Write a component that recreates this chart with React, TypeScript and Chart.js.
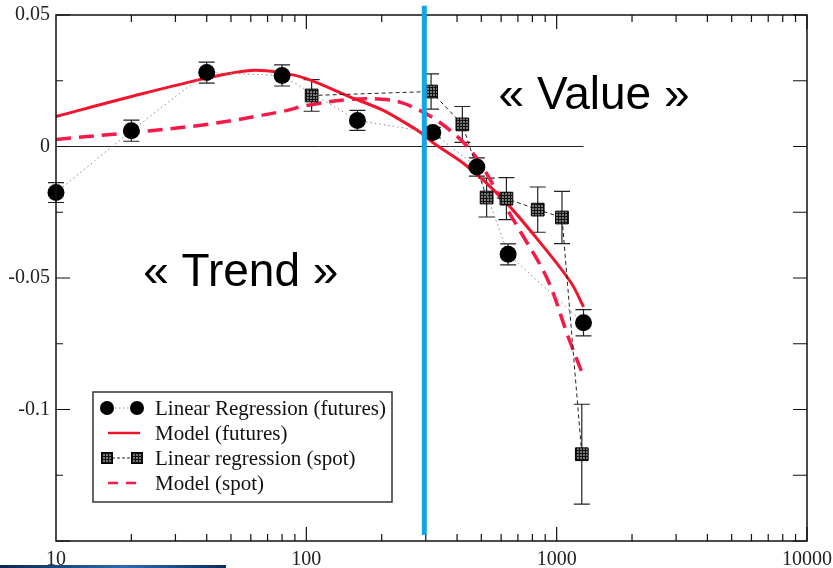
import React, { useEffect, useRef } from 'react';
import { Chart, registerables } from 'chart.js';

Chart.register(...registerables);

// ---- data ----
const futuresX = [10, 20, 40, 80, 160, 320, 480, 640, 1280];
const futuresY = [-0.0175, 0.006, 0.0281, 0.027, 0.0099, 0.0053, -0.0078, -0.041, -0.067];
const futuresErr = [0.0038, 0.004, 0.004, 0.004, 0.0038, 0.002, 0.0035, 0.004, 0.005];

const spotX = [105, 315, 420, 525, 630, 840, 1050, 1260];
const spotY = [0.0194, 0.0209, 0.0084, -0.0194, -0.0198, -0.024, -0.027, -0.117];
const spotErr = [0.006, 0.0067, 0.0068, 0.0074, 0.008, 0.0086, 0.0099, 0.019];

const modelFuturesX = [10, 20, 40, 60, 80, 100, 150, 200, 240, 286, 320, 440, 610, 840, 1140, 1280];
const modelFuturesY = [0.0114, 0.019, 0.026, 0.0289, 0.028, 0.0258, 0.0188, 0.014, 0.0098, 0.0053, 0.0015, -0.0076, -0.02, -0.0354, -0.0517, -0.061];

const modelSpotX = [10, 20, 40, 80, 100, 150, 200, 240, 280, 320, 380, 440, 500, 600, 720, 920, 1110, 1280];
const modelSpotY = [0.0027, 0.0053, 0.0084, 0.0133, 0.0156, 0.0179, 0.018, 0.0167, 0.014, 0.011, 0.0057, 0.0, -0.007, -0.02, -0.0327, -0.0506, -0.0722, -0.0875];

const zeroLineX = [10, 1280];
const zeroLineY = [0, 0];

const xTickLabels = [10, 100, 1000, 10000];
const yTickLabels = [0.05, 0, -0.05, -0.1];

const dividerX = 296;
const dividerYRange = [0.0535, -0.1477];

const annotations = [
  { text: '\u00AB Trend \u00BB', x: 22.3, y: -0.0532 },
  { text: '\u00AB Value \u00BB', x: 586, y: 0.0141 },
];

const legendLabels = [
  'Linear Regression (futures)',
  'Model (futures)',
  'Linear regression (spot)',
  'Model (spot)',
];

// ---- styles ----
const RED = '#f0142c';
const RED_DASH = '#f51a48';
const BLUE = '#12a6e2';
const SERIF = '"Liberation Serif", "Times New Roman", "DejaVu Serif", serif';
const SANS = '"Liberation Sans", Arial, sans-serif';

function makePattern(): CanvasPattern | string {
  const c = document.createElement('canvas');
  c.width = 3;
  c.height = 3;
  const g = c.getContext('2d');
  if (!g) return '#333';
  g.fillStyle = '#777';
  g.fillRect(0, 0, 3, 3);
  g.fillStyle = '#111';
  g.fillRect(0, 0, 3, 1);
  g.fillRect(0, 0, 1, 3);
  const p = g.createPattern(c, 'repeat');
  return p || '#333';
}

const toPts = (xs: number[], ys: number[]) => xs.map((x, i) => ({ x, y: ys[i] }));

export default function App() {
  const ref = useRef<HTMLCanvasElement | null>(null);

  useEffect(() => {
    if (!ref.current) return;
    const pattern = makePattern();

    const drawErrors = (chart: any, xs: number[], ys: number[], es: number[]) => {
      const { ctx, scales } = chart;
      const sx = scales.x;
      const sy = scales.y;
      ctx.save();
      ctx.strokeStyle = '#222';
      ctx.lineWidth = 1.2;
      xs.forEach((xv, i) => {
        const px = sx.getPixelForValue(xv);
        const top = sy.getPixelForValue(ys[i] + es[i]);
        const bot = sy.getPixelForValue(ys[i] - es[i]);
        ctx.beginPath();
        ctx.moveTo(px, top);
        ctx.lineTo(px, bot);
        ctx.moveTo(px - 8, top);
        ctx.lineTo(px + 8, top);
        ctx.moveTo(px - 8, bot);
        ctx.lineTo(px + 8, bot);
        ctx.stroke();
      });
      ctx.restore();
    };

    const decor = {
      id: 'decor',
      beforeDatasetsDraw(chart: any) {
        drawErrors(chart, futuresX, futuresY, futuresErr);
        drawErrors(chart, spotX, spotY, spotErr);
      },
      afterDraw(chart: any) {
        const { ctx, chartArea: a, scales } = chart;
        const sx = scales.x;
        const sy = scales.y;
        ctx.save();
        // frame
        ctx.strokeStyle = '#111';
        ctx.lineWidth = 1.5;
        ctx.strokeRect(a.left, a.top, a.right - a.left, a.bottom - a.top);
        // x ticks (inward)
        ctx.lineWidth = 1.2;
        ctx.beginPath();
        for (let d = 10; d <= 10000; d *= 10) {
          for (let m = 1; m <= 9; m++) {
            const v = d * m;
            if (v > 10000 || v <= 10) continue;
            const px = sx.getPixelForValue(v);
            const len = m === 1 ? 14 : 7;
            ctx.moveTo(px, a.bottom);
            ctx.lineTo(px, a.bottom - len);
            ctx.moveTo(px, a.top);
            ctx.lineTo(px, a.top + len);
          }
        }
        // y ticks (inward)
        for (let k = -6; k <= 2; k++) {
          const v = k * 0.025;
          const py = sy.getPixelForValue(v);
          const major = k % 2 === 0;
          ctx.moveTo(a.left, py);
          ctx.lineTo(a.left + (major ? 14 : 7), py);
          ctx.moveTo(a.right, py);
          ctx.lineTo(a.right - 14, py);
        }
        ctx.stroke();

        // divider line
        const bx = sx.getPixelForValue(dividerX);
        ctx.strokeStyle = BLUE;
        ctx.lineWidth = 5;
        ctx.beginPath();
        ctx.moveTo(bx, sy.getPixelForValue(dividerYRange[0]));
        ctx.lineTo(bx, sy.getPixelForValue(dividerYRange[1]));
        ctx.stroke();

        // annotations
        ctx.fillStyle = '#000';
        ctx.font = `46px ${SANS}`;
        ctx.textAlign = 'left';
        ctx.textBaseline = 'alphabetic';
        annotations.forEach((t) => {
          ctx.fillText(t.text, sx.getPixelForValue(t.x), sy.getPixelForValue(t.y));
        });

        // legend
        const lx = a.left + 37;
        const ly = a.top + 377;
        const lw = 299;
        const lh = 110;
        ctx.fillStyle = '#fff';
        ctx.fillRect(lx, ly, lw, lh);
        ctx.strokeStyle = '#333';
        ctx.lineWidth = 1.5;
        ctx.strokeRect(lx, ly, lw, lh);
        const rowY = [ly + 16, ly + 41, ly + 66, ly + 91];
        const s1 = lx + 14;
        const s2 = lx + 44;
        // row 1: circles + dotted
        ctx.strokeStyle = '#888';
        ctx.lineWidth = 1;
        ctx.setLineDash([1.5, 2.5]);
        ctx.beginPath();
        ctx.moveTo(s1, rowY[0]);
        ctx.lineTo(s2, rowY[0]);
        ctx.stroke();
        ctx.setLineDash([]);
        ctx.fillStyle = '#000';
        [s1, s2].forEach((cx) => {
          ctx.beginPath();
          ctx.arc(cx, rowY[0], 7, 0, Math.PI * 2);
          ctx.fill();
        });
        // row 2: solid red
        ctx.strokeStyle = RED;
        ctx.lineWidth = 2.5;
        ctx.beginPath();
        ctx.moveTo(s1 + 1, rowY[1]);
        ctx.lineTo(s2 + 3, rowY[1]);
        ctx.stroke();
        // row 3: squares + dashed
        ctx.strokeStyle = '#222';
        ctx.lineWidth = 1;
        ctx.setLineDash([3, 2]);
        ctx.beginPath();
        ctx.moveTo(s1, rowY[2]);
        ctx.lineTo(s2, rowY[2]);
        ctx.stroke();
        ctx.setLineDash([]);
        [s1, s2].forEach((cx) => {
          ctx.fillStyle = pattern as any;
          ctx.fillRect(cx - 5.5, rowY[2] - 5.5, 11, 11);
          ctx.strokeStyle = '#000';
          ctx.strokeRect(cx - 5.5, rowY[2] - 5.5, 11, 11);
        });
        // row 4: dashed red
        ctx.strokeStyle = RED_DASH;
        ctx.lineWidth = 2.5;
        ctx.setLineDash([10, 8]);
        ctx.beginPath();
        ctx.moveTo(s1 + 1, rowY[3]);
        ctx.lineTo(s2 + 3, rowY[3]);
        ctx.stroke();
        ctx.setLineDash([]);
        // texts
        ctx.fillStyle = '#111';
        ctx.font = `21px ${SERIF}`;
        ctx.textBaseline = 'middle';
        legendLabels.forEach((l, i) => {
          ctx.fillText(l, lx + 62, rowY[i] + 1);
        });
        ctx.restore();
      },
    };

    const chart = new Chart(ref.current, {
      type: 'line',
      data: {
        datasets: [
          {
            label: legendLabels[0],
            data: toPts(futuresX, futuresY),
            borderColor: '#8a8a8a',
            borderWidth: 1,
            borderDash: [1.5, 3],
            pointStyle: 'circle',
            pointRadius: 8.5,
            pointBackgroundColor: '#000',
            pointBorderColor: '#000',
            pointBorderWidth: 0,
            order: 0,
            clip: false as any,
          },
          {
            label: legendLabels[2],
            data: toPts(spotX, spotY),
            borderColor: '#222',
            borderWidth: 1,
            borderDash: [4, 3],
            pointStyle: 'rect',
            pointRadius: 9,
            pointBackgroundColor: pattern as any,
            pointBorderColor: '#000',
            pointBorderWidth: 1,
            order: 1,
            clip: false as any,
          },
          {
            label: legendLabels[1],
            data: toPts(modelFuturesX, modelFuturesY),
            borderColor: RED,
            borderWidth: 3,
            pointRadius: 0,
            tension: 0.35,
            order: 2,
            clip: false as any,
          },
          {
            label: legendLabels[3],
            data: toPts(modelSpotX, modelSpotY),
            borderColor: RED_DASH,
            borderWidth: 3.5,
            borderDash: [15, 8],
            pointRadius: 0,
            tension: 0.35,
            order: 3,
            clip: false as any,
          },
          {
            label: 'zero',
            data: toPts(zeroLineX, zeroLineY),
            borderColor: '#222',
            borderWidth: 1,
            pointRadius: 0,
            order: 4,
          },
        ],
      },
      options: {
        animation: false,
        responsive: false,
        devicePixelRatio: 1,
        layout: { padding: { top: 15, right: 26, left: 0, bottom: 0 } },
        plugins: {
          legend: { display: false },
          tooltip: { enabled: false },
        },
        scales: {
          x: {
            type: 'logarithmic',
            min: 10,
            max: 10000,
            grid: { display: false, drawTicks: false },
            border: { display: false },
            ticks: {
              autoSkip: false,
              maxRotation: 0,
              padding: 7,
              color: '#222',
              font: { family: SERIF, size: 20 },
              callback: (v: any) => (xTickLabels.includes(Number(v)) ? String(v) : ''),
            },
            afterFit: (s: any) => {
              s.height = 27;
              s.paddingLeft = 0;
              s.paddingRight = 0;
            },
          },
          y: {
            type: 'linear',
            min: -0.15,
            max: 0.05,
            grid: { display: false, drawTicks: false },
            border: { display: false },
            ticks: {
              stepSize: 0.05,
              padding: 6,
              color: '#222',
              font: { family: SERIF, size: 20 },
              callback: (v: any) => {
                const r = Math.round(Number(v) * 100) / 100;
                return yTickLabels.includes(r) ? String(r) : '';
              },
            },
            afterFit: (s: any) => {
              s.width = 56;
              s.paddingTop = 0;
              s.paddingBottom = 0;
            },
          },
        },
      },
      plugins: [decor],
    });
    return () => chart.destroy();
  }, []);

  return (
    <div style={{ position: 'absolute', left: 0, top: 0, width: 833, height: 568, background: '#fff', overflow: 'hidden' }}>
      <canvas ref={ref} width={833} height={568} style={{ display: 'block' }} />
      <div
        style={{
          position: 'absolute',
          left: 0,
          top: 565,
          width: 226,
          height: 3,
          background: 'linear-gradient(90deg, #0b2752, #2b6cb0 55%, #0d2d5e)',
        }}
      />
    </div>
  );
}
